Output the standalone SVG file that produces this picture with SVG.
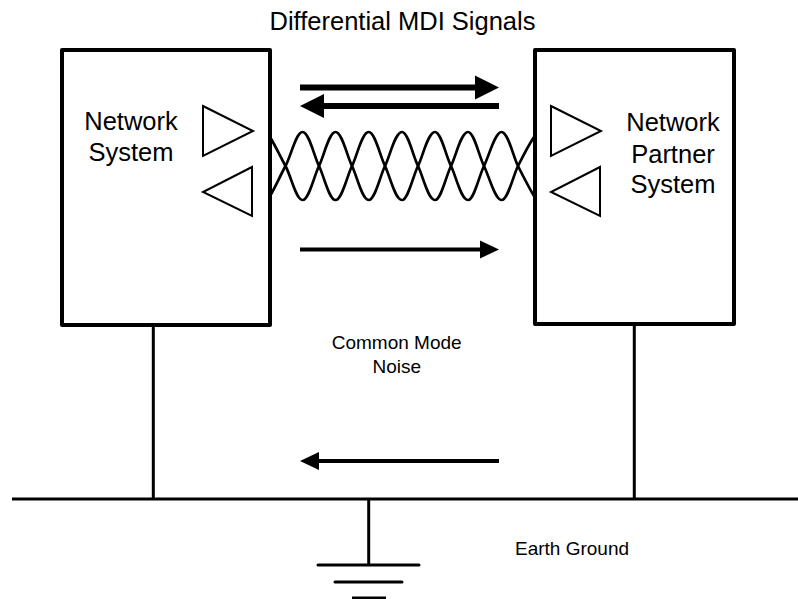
<svg xmlns="http://www.w3.org/2000/svg" width="798" height="599" viewBox="0 0 798 599">
<style>
text{font-family:"Liberation Sans",Arial,sans-serif;fill:#000;text-anchor:middle}
.big{font-size:25.500px}
.small{font-size:19px}
.box{fill:#fff;stroke:#000;stroke-width:4;stroke-linejoin:round}
.tri{fill:#fff;stroke:#000;stroke-width:2}
.wire{fill:none;stroke:#000;stroke-width:3}
.twist{fill:none;stroke:#000;stroke-width:2.700}
.a1{stroke:#000;stroke-width:6}
.a2{stroke:#000;stroke-width:4}
.head{fill:#000;stroke:none}
</style>
<rect width="798" height="599" fill="#fff"/>
<text id="title" class="big" x="402.500" y="29.500">Differential MDI Signals</text>
<g id="network-system">
<rect class="box" x="62" y="50" width="208" height="275"/>
<text class="big" x="131" y="129.500">Network</text>
<text class="big" x="131" y="160.500">System</text>
<polygon class="tri" points="203,106 253,131 203,156"/>
<polygon class="tri" points="252,167 203,192 252,216"/>
</g>
<g id="network-partner-system">
<rect class="box" x="535" y="50" width="199" height="274"/>
<text class="big" x="673" y="131">Network</text>
<text class="big" x="673" y="162.500">Partner</text>
<text class="big" x="673" y="192.500">System</text>
<polygon class="tri" points="551,106 601,131 551,156"/>
<polygon class="tri" points="600,167 551,192 600,216"/>
</g>
<g id="connectors">
<path class="twist" d="M270,137 C276,147 280,156 285.500,166 C291,176 296,200 302.500,200 C309,200 314,176 319,166 C324,156 329,132 335.500,132 C342,132 347,156 352,166 C357,176 362,200 368.700,200 C375,200 380,176 385,166 C390,156 395,132 402,132 C408,132 413,156 418,166 C423,176 428,200 435,200 C441,200 446,176 451,166 C456,156 461,132 468,132 C474,132 479,156 484,166 C489,176 495,200 501.500,200 C508,200 513,176 518,166 C523,156 528,146 534,137"/>
<path class="twist" d="M270,196 C276,186 280,176 285.500,166 C291,156 296,132 302.500,132 C309,132 314,156 319,166 C324,176 329,200 335.500,200 C342,200 347,176 352,166 C357,156 362,132 368.700,132 C375,132 380,156 385,166 C390,176 395,200 402,200 C408,200 413,176 418,166 C423,156 428,132 435,132 C441,132 446,156 451,166 C456,176 461,200 468,200 C474,200 479,176 484,166 C489,156 495,132 501.500,132 C508,132 513,156 518,166 C523,176 528,186 534,196"/>
<line class="a1" x1="300" y1="87.500" x2="476" y2="87.500"/>
<polygon class="head" points="475,75.500 499,87.500 475,99.500"/>
<line class="a1" x1="323" y1="106" x2="499" y2="106"/>
<polygon class="head" points="324,94 300,106 324,118"/>
<line class="a2" x1="300" y1="249.500" x2="481" y2="249.500"/>
<polygon class="head" points="480,240.500 499,249.500 480,258.500"/>
<line class="a2" x1="318" y1="461" x2="499" y2="461"/>
<polygon class="head" points="319,452 300,461 319,470"/>
<line class="wire" x1="153.300" y1="325" x2="153.300" y2="499"/>
<line class="wire" x1="634.300" y1="324" x2="634.300" y2="499"/>
<line class="wire" x1="12" y1="499" x2="798" y2="499"/>
<line class="wire" x1="368.700" y1="499" x2="368.700" y2="565"/>
<line class="wire" x1="318" y1="565" x2="419" y2="565" stroke-linecap="round"/>
<line class="wire" x1="335" y1="582" x2="402" y2="582" stroke-linecap="round"/>
<line class="wire" x1="352" y1="598" x2="386" y2="598"/>
</g>
<text class="small" x="396.700" y="349">Common Mode</text>
<text class="small" x="396.700" y="373">Noise</text>
<text class="small" x="572" y="555">Earth Ground</text>
</svg>
